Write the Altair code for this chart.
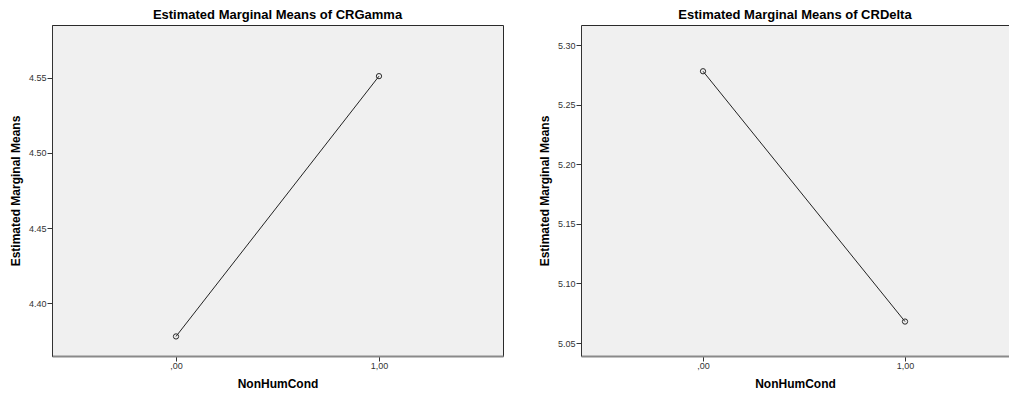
import altair as alt
import pandas as pd

# ---- data ----
cond = [0, 1]
gamma_means = [4.378, 4.551]
delta_means = [5.278, 5.068]
x_tick_values = [0, 1]
x_tick_labels = [",00", "1,00"]
gamma_ticks = [4.40, 4.45, 4.50, 4.55]
delta_ticks = [5.05, 5.10, 5.15, 5.20, 5.25, 5.30]
titles = ["Estimated Marginal Means of CRGamma", "Estimated Marginal Means of CRDelta"]
x_title = "NonHumCond"
y_title = "Estimated Marginal Means"

FONT = "Liberation Sans"
label_expr = "".join(
    f"datum.value == {v} ? '{l}' : " for v, l in zip(x_tick_values, x_tick_labels)
) + "''"

gamma_df = pd.DataFrame({"cond": cond, "mean": gamma_means})
delta_df = pd.DataFrame({"cond": cond, "mean": delta_means})


def panel(df, title, ydom, yticks, xdom, width, full_box, title_offset):
    base = alt.Chart(df)
    xscale = alt.Scale(domain=xdom, nice=False, zero=False)
    x_axis = alt.Axis(
        values=x_tick_values, labelExpr=label_expr, title=x_title, grid=False,
        domainColor="#8a8a8a", domainWidth=2, tickColor="#333333", tickSize=5,
        tickWidth=1, labelFontSize=9, labelColor="#333333", labelFont=FONT,
        labelPadding=0, titleFont=FONT, titleFontSize=12, titleFontWeight="bold",
        titleColor="#000000", titlePadding=8.5,
    )
    y_axis = alt.Axis(
        values=yticks, format=".2f", title=y_title, grid=False,
        domainColor="#333333", domainWidth=1, tickColor="#333333", tickSize=5,
        labelFontSize=9, labelColor="#333333", labelFont=FONT, labelPadding=1,
        titleFont=FONT, titleFontSize=12, titleFontWeight="bold",
        titleColor="#000000", titlePadding=6,
    )
    x = alt.X("cond:Q", scale=xscale, axis=x_axis)
    y = alt.Y("mean:Q", scale=alt.Scale(domain=ydom, nice=False, zero=False), axis=y_axis)
    line = base.mark_line(color="#222222", strokeWidth=1).encode(x=x, y=y)
    if full_box:
        pts_x = x
    else:
        pts_x = alt.X("cond:Q", scale=xscale, axis=None)
    pts = base.mark_point(shape="circle", filled=False, size=28, color="#2a2a2a",
                          strokeWidth=1, opacity=1).encode(x=pts_x, y=y)
    layers = [line, pts]
    if not full_box:
        top = base.mark_line(opacity=0).encode(
            x=alt.X("cond:Q", scale=xscale,
                    axis=alt.Axis(orient="top", labels=False, ticks=False, title=None,
                                  grid=False, domainColor="#2a2a2a", domainWidth=1)),
            y=y,
        )
        layers.append(top)
    ch = alt.layer(*layers)
    if not full_box:
        ch = ch.resolve_axis(x="independent")
    view = (alt.ViewBackground(stroke="#2a2a2a", strokeWidth=1, fill="#f0f0f0")
            if full_box else alt.ViewBackground(strokeOpacity=0, fill="#f0f0f0"))
    return ch.properties(
        width=width, height=331, view=view,
        title=alt.TitleParams(text=title, font=FONT, fontSize=13, fontWeight="bold",
                              color="#000000", anchor="middle", frame="group",
                              offset=title_offset),
    )


left = panel(gamma_df, titles[0], [4.365, 4.585], gamma_ticks, [-0.611, 1.611], 451, True, 3)
right = panel(delta_df, titles[1], [5.0391, 5.3168], delta_ticks,
              [-0.604, -0.604 + 428 / 202], 428, False, 3)

chart = alt.hconcat(left, right, spacing=34).properties(
    padding={"left": 0, "top": 0, "right": 0, "bottom": 0}, background="#ffffff"
)

chart.save("out.html", embed_options={"renderer": "svg", "actions": False})
